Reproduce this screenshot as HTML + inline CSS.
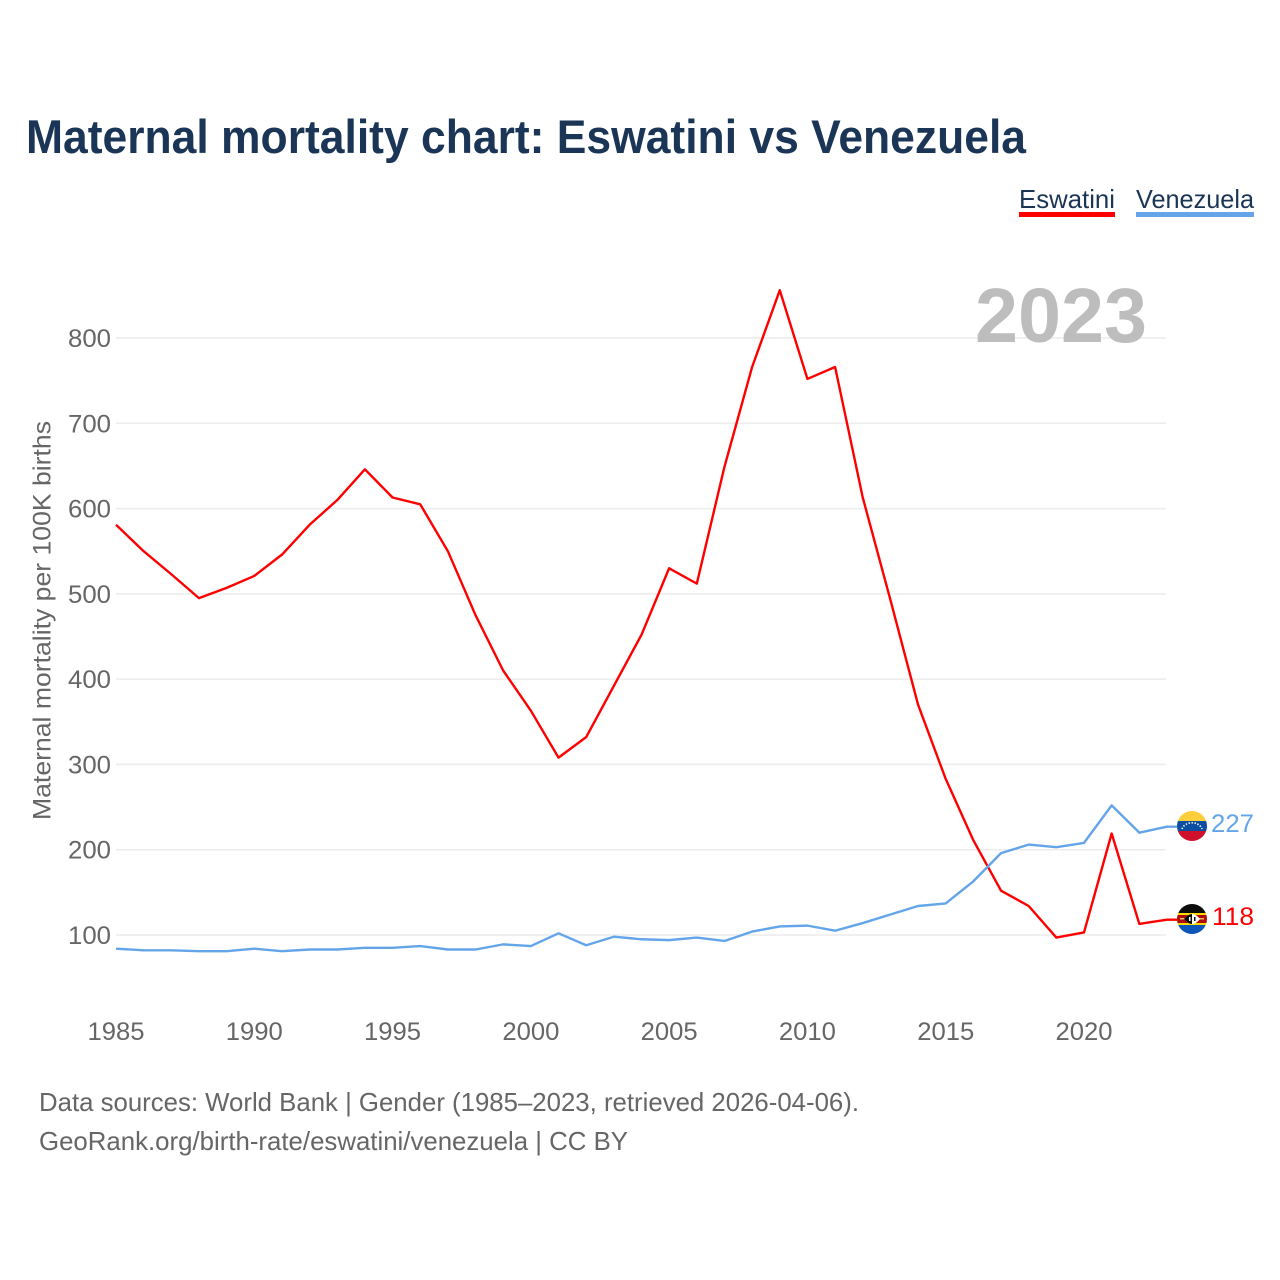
<!DOCTYPE html>
<html lang="en">
<head>
<meta charset="utf-8">
<title>Maternal mortality chart: Eswatini vs Venezuela</title>
<style>
html,body{margin:0;padding:0;background:#fff;width:1280px;height:1280px;overflow:hidden}
svg{display:block;font-family:"Liberation Sans",sans-serif}
</style>
</head>
<body>
<svg id="chart" xmlns="http://www.w3.org/2000/svg" width="1280" height="1280" viewBox="0 0 1280 1280">
  <defs>
    <clipPath id="clip-ve"><circle cx="1192" cy="826" r="15"/></clipPath>
    <clipPath id="clip-sz"><circle cx="1192" cy="919" r="15"/></clipPath>
  </defs>
  <rect x="0" y="0" width="1280" height="1280" fill="#ffffff"/>
  <text x="26" y="153" font-size="47" font-weight="700" fill="#1a3555" textLength="1000" lengthAdjust="spacingAndGlyphs">Maternal mortality chart: Eswatini vs Venezuela</text>

  <text x="1019" y="208" font-size="26" fill="#1a3555" textLength="96" lengthAdjust="spacingAndGlyphs">Eswatini</text>
  <rect x="1019" y="212" width="96" height="5" fill="#ff0000"/>
  <text x="1136" y="208" font-size="26" fill="#1a3555" textLength="118" lengthAdjust="spacingAndGlyphs">Venezuela</text>
  <rect x="1136" y="212" width="118" height="5" fill="#64a5ea"/>

  <g id="grid"></g>
  <text x="975" y="342" font-size="77" font-weight="700" fill="#bdbdbd" textLength="172" lengthAdjust="spacingAndGlyphs">2023</text>
  <g id="y-ticks"></g>
  <g id="x-ticks"></g>
  <text transform="translate(50.500,820) rotate(-90)" x="0" y="0" font-size="25" fill="#666666" textLength="399" lengthAdjust="spacingAndGlyphs">Maternal mortality per 100K births</text>
  <g id="series"></g>

  <g clip-path="url(#clip-ve)">
    <rect x="1177" y="811" width="30" height="10" fill="#ffce3a"/>
    <rect x="1177" y="821" width="30" height="10" fill="#0b4ea2"/>
    <rect x="1177" y="831" width="30" height="10" fill="#d0112b"/>
    <path d="M1182 829 A10.5 9 0 0 1 1202 829" fill="none" stroke="#ffffff" stroke-width="1.6" stroke-dasharray="1.4 1.6"/>
  </g>
  <g clip-path="url(#clip-sz)">
    <rect x="1177" y="904" width="30" height="10" fill="#0d0d0d"/>
    <rect x="1177" y="913" width="30" height="2" fill="#ffd900"/>
    <rect x="1177" y="915" width="30" height="8" fill="#b10c0c"/>
    <rect x="1177" y="923" width="30" height="2" fill="#ffd900"/>
    <rect x="1177" y="925" width="30" height="9" fill="#0b56b8"/>
    <rect x="1180" y="918" width="24" height="1.500" fill="#e8c24a"/>
    <path d="M1184 919 Q1192 909 1200 919 Q1192 929 1184 919 Z" fill="#ffffff"/>
    <path d="M1184 919 Q1188 914 1192 914 L1192 924 Q1188 924 1184 919 Z" fill="#0d0d0d"/>
    <rect x="1189" y="917" width="1.500" height="4" fill="#ffffff"/>
    <rect x="1194" y="917" width="1.500" height="4" fill="#0d0d0d"/>
  </g>
  <g id="end-labels"></g>

  <text x="39" y="1111" font-size="26" fill="#666666" textLength="820" lengthAdjust="spacingAndGlyphs">Data sources: World Bank | Gender (1985–2023, retrieved 2026-04-06).</text>
  <text x="39" y="1150" font-size="26" fill="#666666" textLength="589" lengthAdjust="spacingAndGlyphs">GeoRank.org/birth-rate/eswatini/venezuela | CC BY</text>
</svg>
<script>
const years = [1985,1986,1987,1988,1989,1990,1991,1992,1993,1994,1995,1996,1997,1998,1999,2000,2001,2002,2003,2004,2005,2006,2007,2008,2009,2010,2011,2012,2013,2014,2015,2016,2017,2018,2019,2020,2021,2022,2023];
const eswatiniValues = [581,550,523,495,507,521,546,581,610,646,613,605,550,475,410,363,308,332,392,452,530,512,649,766,856,752,766,613,493,370,283,211,152,134,97,103,219,113,118];
const venezuelaValues = [84,82,82,81,81,84,81,83,83,85,85,87,83,83,89,87,102,88,98,95,94,97,93,104,110,111,105,114,124,134,137,163,196,206,203,208,252,220,227];
const yTickValues = [100,200,300,400,500,600,700,800];
const xTickValues = [1985,1990,1995,2000,2005,2010,2015,2020];

const SVG_NS = 'http://www.w3.org/2000/svg';
const xScale = function (year) { return 116 + (year - 1985) * (1084 - 116) / 35; };
const yScale = function (value) { return 935 - (value - 100) * (935 - 338) / 700; };

function make(tag, parent, attrs, text) {
  const el = document.createElementNS(SVG_NS, tag);
  Object.keys(attrs).forEach(function (k) { el.setAttribute(k, attrs[k]); });
  if (text !== undefined) el.textContent = text;
  parent.appendChild(el);
  return el;
}

const gridGroup = document.getElementById('grid');
const yGroup = document.getElementById('y-ticks');
yTickValues.forEach(function (v) {
  const line = make('line', gridGroup, {x1: 116, x2: 1166, y1: yScale(v), y2: yScale(v), stroke: '#ececec', 'stroke-width': 1.5});
  
  
  const label = make('text', yGroup, {x: 111, y: yScale(v) + 9, 'font-size': 25, fill: '#666666', 'text-anchor': 'end', textLength: 43, lengthAdjust: 'spacingAndGlyphs'}, String(v));
  
  
});

const xGroup = document.getElementById('x-ticks');
xTickValues.forEach(function (y) {
  const label = make('text', xGroup, {x: xScale(y) - 28.5, y: 1040, 'font-size': 25, fill: '#666666', textLength: 57, lengthAdjust: 'spacingAndGlyphs'}, String(y));
  
  
});

function drawSeries(values, color, flagY, name, labelWidth) {
  const group = document.getElementById('series');
  const pts = values.map(function (v, i) { return xScale(years[i]).toFixed(2) + ',' + yScale(v).toFixed(2); });
  const last = values[values.length - 1];
  pts.push('1177,' + yScale(last).toFixed(2));
  const line = make('polyline', group, {points: pts.join(' '), fill: 'none', stroke: color, 'stroke-width': 2.4, 'stroke-linejoin': 'round'});
  
  
  const endGroup = document.getElementById('end-labels');
  const label = make('text', endGroup, {x: 1254 - labelWidth, y: flagY + 8, 'font-size': 25, fill: color, textLength: labelWidth, lengthAdjust: 'spacingAndGlyphs'}, String(last));
  
  
}
drawSeries(eswatiniValues, '#ff0000', 917, 'eswatini', 42);
drawSeries(venezuelaValues, '#64a5ea', 824, 'venezuela', 43);
</script>
</body>
</html>
